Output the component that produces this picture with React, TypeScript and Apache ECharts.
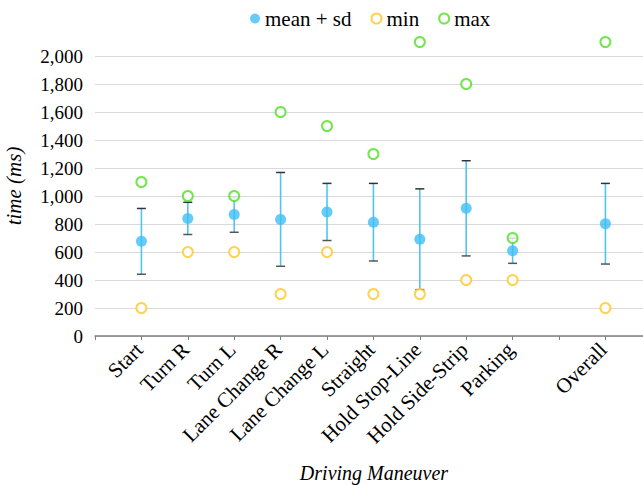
import React, { useEffect, useRef } from "react";
import * as echarts from "echarts";

const categories = [
  "Start",
  "Turn R",
  "Turn L",
  "Lane Change R",
  "Lane Change L",
  "Straight",
  "Hold Stop-Line",
  "Hold Side-Strip",
  "Parking",
  "",
  "Overall",
];
const means: (number | null)[] = [676, 840, 868, 833, 886, 813, 691, 912, 609, null, 802];
const sds: (number | null)[] = [235, 115, 127, 335, 204, 277, 360, 340, 90, null, 288];
const mins: (number | null)[] = [200, 600, 600, 300, 600, 300, 300, 400, 400, null, 200];
const maxs: (number | null)[] = [1100, 1000, 1000, 1600, 1500, 1300, 2100, 1800, 700, null, 2100];

const FONT = "Liberation Serif";

export default function App() {
  const ref = useRef<HTMLDivElement>(null);
  useEffect(() => {
    if (!ref.current) return;
    const chart = echarts.init(ref.current, undefined, { renderer: "svg" });
    const pts = (arr: (number | null)[]) =>
      arr.map((v, i) => (v == null ? null : [i + 1, v])).filter((d) => d != null);
    const errData = means
      .map((m, i) => (m == null || sds[i] == null ? null : [i + 1, m - (sds[i] as number), m + (sds[i] as number)]))
      .filter((d) => d != null);

    chart.setOption({
      animation: false,
      textStyle: { fontFamily: FONT, color: "#000" },
      legend: {
        left: 245,
        top: 3,
        itemWidth: 10,
        itemHeight: 10,
        itemGap: 19,
        textStyle: { fontFamily: FONT, fontSize: 21, color: "#000" },
        data: [
          { name: "mean + sd", icon: "circle" },
          { name: "min", icon: "emptyCircle" },
          { name: "max", icon: "emptyCircle" },
        ],
      },
      grid: { left: 95, right: 0, top: 56, bottom: 149, containLabel: false },
      xAxis: {
        type: "value",
        min: 0,
        max: 11.81,
        interval: 1,
        splitLine: { show: false },
        axisLine: { show: true, lineStyle: { color: "#7f7f7f", width: 1.5 } },
        axisTick: { show: true, length: 4, lineStyle: { color: "#7f7f7f" } },
        axisLabel: {
          rotate: 45,
          margin: 8,
          padding: [0, 3, 6, 0],
          fontFamily: FONT,
          fontSize: 21,
          color: "#000",
          formatter: (v: number) => categories[Math.round(v) - 1] ?? "",
          showMaxLabel: false,
        },
      },
      yAxis: {
        type: "value",
        min: 0,
        max: 2000,
        interval: 200,
        axisLine: { show: false },
        axisTick: { show: false },
        splitLine: { lineStyle: { color: "#d9d9d9", width: 1 } },
        axisLabel: {
          margin: 12,
          fontFamily: FONT,
          fontSize: 19,
          color: "#000",
          formatter: (v: number) => v.toLocaleString("en-US"),
        },
      },
      graphic: [
        {
          type: "text",
          x: 14,
          y: 186,
          rotation: Math.PI / 2,
          style: {
            text: "time (ms)",
            font: `italic 21px ${FONT}`,
            fill: "#000",
            align: "center",
            verticalAlign: "middle",
          },
        },
        {
          type: "text",
          x: 374,
          y: 473,
          style: {
            text: "Driving Maneuver",
            font: `italic 20px ${FONT}`,
            fill: "#000",
            align: "center",
            verticalAlign: "middle",
          },
        },
      ],
      series: [
        {
          type: "custom",
          name: "sd",
          data: errData,
          clip: false,
          z: 2,
          renderItem: (params: any, api: any) => {
            const x = api.value(0);
            const lo = api.coord([x, api.value(1)]);
            const hi = api.coord([x, api.value(2)]);
            const w = 4.5;
            return {
              type: "group",
              children: [
                {
                  type: "line",
                  shape: { x1: lo[0], y1: lo[1], x2: hi[0], y2: hi[1] },
                  style: { stroke: "#52c4f4", lineWidth: 1.6 },
                },
                {
                  type: "line",
                  shape: { x1: hi[0] - w, y1: hi[1], x2: hi[0] + w, y2: hi[1] },
                  style: { stroke: "#333", lineWidth: 1.5 },
                },
                {
                  type: "line",
                  shape: { x1: lo[0] - w, y1: lo[1], x2: lo[0] + w, y2: lo[1] },
                  style: { stroke: "#555", lineWidth: 1.5 },
                },
              ],
            };
          },
        },
        {
          type: "scatter",
          name: "mean + sd",
          data: pts(means),
          symbol: "circle",
          symbolSize: 11,
          itemStyle: { color: "#3fbff6" },
          z: 3,
          clip: false,
        },
        {
          type: "scatter",
          name: "min",
          data: pts(mins),
          symbol: "emptyCircle",
          symbolSize: 10,
          itemStyle: { color: "#ffc820", borderWidth: 1 },
          z: 4,
          clip: false,
        },
        {
          type: "scatter",
          name: "max",
          data: pts(maxs),
          symbol: "emptyCircle",
          symbolSize: 10,
          itemStyle: { color: "#4de020", borderWidth: 1 },
          z: 4,
          clip: false,
        },
      ],
    });
    return () => chart.dispose();
  }, []);
  return (
    <div
      ref={ref}
      style={{ position: "absolute", left: 0, top: 0, width: 643, height: 485 }}
    />
  );
}
